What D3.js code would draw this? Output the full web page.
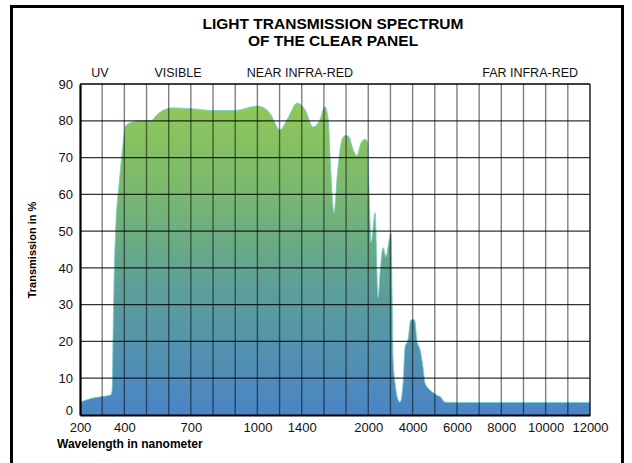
<!DOCTYPE html>
<html>
<head>
<meta charset="utf-8">
<script src="https://cdn.jsdelivr.net/npm/d3@7"></script>
<style>
  body { margin: 0; background: #fff; }
  svg { display: block; }
</style>
</head>
<body>
<div id="chart"></div>
<script>
// data
const wavelength = [200, 250, 300, 340, 345, 350, 355, 362, 375, 393, 405, 430, 470, 520, 545, 580, 620, 700, 800, 900, 1000,
  1060, 1114, 1204, 1280, 1358, 1430, 1502, 1560, 1610, 1640, 1656, 1692, 1720, 1750, 1772, 1800, 1830, 1854, 1898, 1935, 1972, 1995,
  2010, 2040, 2130, 2310, 2440, 2550, 2670, 2800, 2900, 3030, 3080, 3120, 3210, 3300, 3430, 3570, 3660, 3790, 3920, 4050, 4110,
  4190, 4340, 4470, 4560, 4700, 4880, 5100, 5240, 5460, 6000, 8000, 10000, 12000]
const transmission = [3.5, 4.5, 5, 5.5, 7, 25, 40, 52, 62, 73, 78.5, 79.5, 80, 80, 81.5, 83, 83.5, 83.3, 82.8, 82.8, 84,
  83.5, 82, 77.5, 81, 84.8, 83, 78.3, 80, 83.8, 80, 70, 55, 65, 73, 75.5, 76, 75.5, 73, 70.5, 74, 75, 74,
  65, 60, 47, 55, 32, 40, 45.5, 43, 46, 49.5, 30, 15, 8.7, 5, 3.5, 8.7, 18.5, 20.4, 25.8, 26, 25.3,
  20.4, 17.7, 13, 8.7, 7.3, 6.3, 5.4, 5, 3.5, 3.4, 3.4, 3.4, 3.4]

const xTicks = [200, 400, 700, 1000, 1400, 2000, 4000, 6000, 8000, 10000, 12000]
const xTickCols = [0, 2, 5, 8, 10, 13, 15, 17, 19, 21, 23]   // which grid column each label sits on
const yTicks = [0, 10, 20, 30, 40, 50, 60, 70, 80, 90]
const regions = ['UV', 'VISIBLE', 'NEAR INFRA-RED', 'FAR INFRA-RED']
const regionAt = [290, 642, 1384, 9300]

const W = 632, H = 463
const pLeft = 80, pRight = 590, pTop = 84, pBottom = 415
const nCols = 23

const svg = d3.select('#chart').append('svg')
  .attr('width', W).attr('height', H)

const col = d3.scaleLinear().domain([0, nCols]).range([pLeft, pRight])
const x = d3.scaleLinear().domain(xTicks).range(xTickCols.map(c => col(c)))
const y = d3.scaleLinear().domain([0, 90]).range([pBottom, pTop])

// outer frame
svg.append('rect')
  .attr('x', 11.5).attr('y', 6.5)
  .attr('width', 611).attr('height', 500)
  .attr('fill', 'none').attr('stroke', '#000').attr('stroke-width', 3)

// title
const titleLines = ['LIGHT TRANSMISSION SPECTRUM', 'OF THE CLEAR PANEL']
svg.append('g')
  .selectAll('text')
  .data(titleLines)
  .join('text')
    .attr('x', 333)
    .attr('y', (d, i) => 28.5 + i * 17.5)
    .attr('text-anchor', 'middle')
    .attr('font-family', 'Liberation Sans, Arial, sans-serif')
    .attr('font-weight', 'bold')
    .attr('font-size', 15.5)
    .text(d => d)

// gradient
const grad = svg.append('defs').append('linearGradient')
  .attr('id', 'fillGrad')
  .attr('gradientUnits', 'userSpaceOnUse')
  .attr('x1', 0).attr('x2', 0).attr('y1', pTop).attr('y2', pBottom)
grad.append('stop').attr('offset', '0%').attr('stop-color', '#94cc55')
grad.append('stop').attr('offset', '30%').attr('stop-color', '#7cba6c')
grad.append('stop').attr('offset', '62%').attr('stop-color', '#5c9f98')
grad.append('stop').attr('offset', '100%').attr('stop-color', '#4a84c6')

const pts = wavelength.map((w, i) => [w, transmission[i]])

const area = d3.area()
  .x(d => x(d[0]))
  .y0(y(0))
  .y1(d => y(d[1]))
  .curve(d3.curveMonotoneX)

svg.append('path')
  .datum(pts)
  .attr('d', area)
  .attr('fill', 'url(#fillGrad)')

svg.append('path')
  .datum(pts)
  .attr('d', area.lineY1())
  .attr('fill', 'none')
  .attr('stroke', '#6fd0cc')
  .attr('stroke-width', 1)
  .attr('opacity', 0.8)

// grid
svg.append('g')
  .selectAll('line')
  .data(d3.range(1, nCols))
  .join('line')
    .attr('x1', d => col(d)).attr('x2', d => col(d))
    .attr('y1', pTop).attr('y2', pBottom)
    .attr('stroke', '#000').attr('stroke-opacity', 0.5).attr('stroke-width', 1.4)

svg.append('g')
  .selectAll('line')
  .data(yTicks.slice(1, -1))
  .join('line')
    .attr('x1', pLeft).attr('x2', pRight)
    .attr('y1', d => y(d)).attr('y2', d => y(d))
    .attr('stroke', '#000').attr('stroke-opacity', 0.8).attr('stroke-width', 1.3)

// plot frame
svg.append('line').attr('x1', pLeft).attr('x2', pRight).attr('y1', pTop).attr('y2', pTop)
  .attr('stroke', '#000').attr('stroke-width', 1.5)
svg.append('line').attr('x1', pRight).attr('x2', pRight).attr('y1', pTop).attr('y2', pBottom)
  .attr('stroke', '#222').attr('stroke-width', 1.5)

// axes
const yAxis = svg.append('g')
  .attr('transform', 'translate(' + pLeft + ',0)')
  .call(d3.axisLeft(y).tickValues(yTicks).tickSize(0).tickPadding(7))
const xAxis = svg.append('g')
  .attr('transform', 'translate(0,' + pBottom + ')')
  .call(d3.axisBottom(x).tickValues(xTicks).tickSize(0).tickPadding(8).tickFormat(d3.format('d')))

for (const ax of [yAxis, xAxis]) {
  ax.select('.domain').attr('stroke', '#000').attr('stroke-width', 2.2)
  ax.selectAll('text')
    .attr('font-family', 'Liberation Sans, Arial, sans-serif')
    .attr('font-size', 13)
    .attr('fill', '#111')
}
// the 0 label sits a little above the baseline, clear of "200"
yAxis.selectAll('.tick').filter(d => d === 0).select('text').attr('dy', '-0.05em')

// region labels
svg.append('g')
  .selectAll('text')
  .data(regions)
  .join('text')
    .attr('x', (d, i) => x(regionAt[i]))
    .attr('y', 77)
    .attr('text-anchor', 'middle')
    .attr('font-family', 'Liberation Sans, Arial, sans-serif')
    .attr('font-size', 12.5)
    .attr('fill', '#111')
    .text(d => d)

// axis titles
svg.append('text')
  .attr('transform', 'translate(36,250) rotate(-90)')
  .attr('text-anchor', 'middle')
  .attr('font-family', 'Liberation Sans, Arial, sans-serif')
  .attr('font-weight', 'bold')
  .attr('font-size', 11)
  .text('Transmission in %')

svg.append('text')
  .attr('x', 57).attr('y', 448)
  .attr('font-family', 'Liberation Sans, Arial, sans-serif')
  .attr('font-weight', 'bold')
  .attr('font-size', 12)
  .text('Wavelength in nanometer')
</script>
</body>
</html>
